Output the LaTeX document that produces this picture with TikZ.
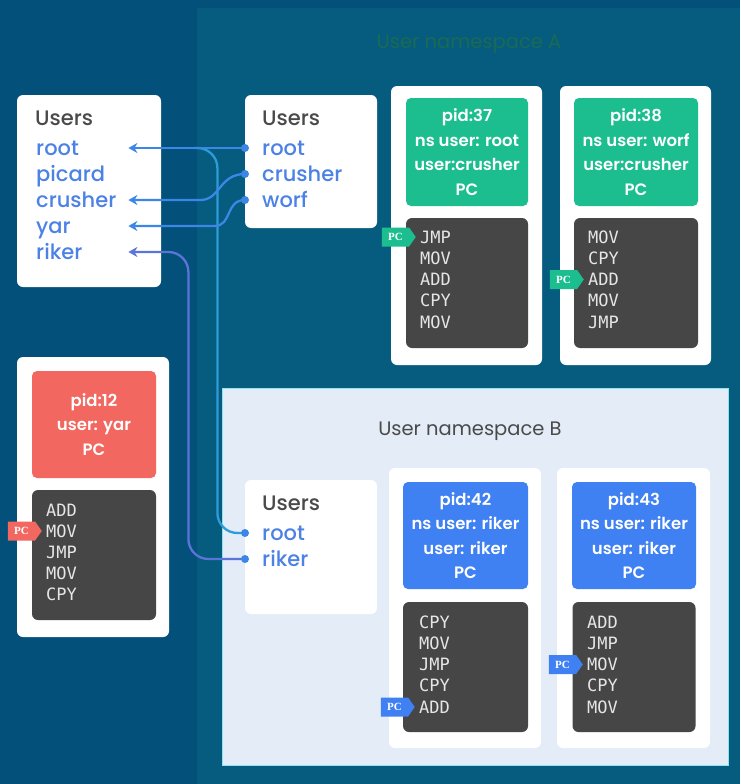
\documentclass[tikz,border=0pt]{standalone}
\usepackage{fontspec}
\setmainfont{Poppins}
\IfFontExistsTF{Poppins Medium}
  {\newfontfamily\medfont{Poppins Medium}}
  {\newfontfamily\medfont{Poppins}}
\IfFontExistsTF{Poppins SemiBold}
  {\newfontfamily\semifont{Poppins SemiBold}}
  {\newfontfamily\semifont{Poppins}[FakeBold=1.5]}
\newfontfamily\codefont{DejaVu Sans Mono}
\newfontfamily\tagfont{Liberation Serif}
\usetikzlibrary{shapes.symbols,arrows.meta,calc}

\definecolor{outerbg}{HTML}{03507A}
\definecolor{nsA}{HTML}{055C7E}
\definecolor{nsAtitle}{HTML}{1B6A55}
\definecolor{nsB}{HTML}{E3ECF7}
\definecolor{nsBedge}{HTML}{8EE3F0}
\definecolor{usergray}{HTML}{4A4A4A}
\definecolor{userblue}{HTML}{4C82E6}
\definecolor{codebg}{HTML}{464646}
\definecolor{codetext}{HTML}{E6E6E6}
\definecolor{procgreen}{HTML}{1CBE8F}
\definecolor{procred}{HTML}{F2675F}
\definecolor{procblue}{HTML}{3F80F2}
\definecolor{linkblue}{HTML}{3C86E6}
\definecolor{linkcyan}{HTML}{2E9CD8}
\definecolor{linkviolet}{HTML}{5B74D8}

\tikzset{
  card/.style={fill=white, rounded corners=6pt, inner sep=0pt},
  hdr/.style={rounded corners=5pt, inner sep=0pt, text=white, align=center,
    font=\semifont\fontsize{16.5}{24.5}\selectfont},
  codebox/.style={fill=codebg, rounded corners=6pt, inner sep=0pt},
  codeline/.style={anchor=west, inner xsep=4pt, inner ysep=0pt, text=codetext,
    font=\codefont\fontsize{17}{18}\selectfont},
  pctag/.style={signal, signal to=east, signal pointer angle=110, text=white,
    inner xsep=3pt, inner ysep=3.5pt, minimum height=19pt, minimum width=34pt,
    anchor=east, font=\tagfont\bfseries\fontsize{11}{12}\selectfont},
  usershead/.style={anchor=base west, inner sep=0pt, text=usergray,
    font=\medfont\fontsize{21}{22}\selectfont},
  lentry/.style={anchor=base west, inner xsep=2pt, inner ysep=0pt, text width=90pt,
    align=left, text=userblue, font=\medfont\fontsize{21}{22}\selectfont},
  rentry/.style={anchor=base west, inner xsep=17pt, inner ysep=0pt, text=userblue,
    font=\medfont\fontsize{21}{22}\selectfont},
  link/.style={line width=2.3pt, line cap=round},
  dotend/.style={circle, fill=linkblue, inner sep=0pt, minimum size=8pt},
  nstitle/.style={inner sep=0pt, font=\fontsize{19.5}{22}\selectfont},
}

\begin{document}
\begin{tikzpicture}[x=1pt, y=-1pt]
  % canvas and namespace regions
  \fill[outerbg] (0,0) rectangle (740,784);
  \useasboundingbox (0,0) rectangle (740,784);
  \fill[nsA] (197,8) rectangle (740,784);
  \node[nstitle, text=nsAtitle] (titleA) at (469,44) {User namespace A};
  \filldraw[fill=nsB, draw=nsBedge, line width=1pt] (222,388) rectangle (728,765);
  \node[nstitle, text=usergray] (titleB) at (470,431) {User namespace B};

  % host user table (baselines; the entry rows sit about 7pt above)
  \node[card, minimum width=144pt, minimum height=192pt] (hostusers) at (89,191) {};
  \node[usershead] (hostlbl) at (35,125) {Users};
  \node[lentry] (Lroot)    at (34,155) {root};
  \node[lentry] (Lpicard)  at (34,181) {picard};
  \node[lentry] (Lcrusher) at (34,207) {crusher};
  \node[lentry] (Lyar)     at (34,233) {yar};
  \node[lentry] (Lriker)   at (34,259) {riker};

  % namespace A user table
  \node[card, minimum width=132pt, minimum height=133pt] (Ausers) at (311,161.5) {};
  \node[usershead] (Albl) at (262,125) {Users};
  \node[rentry] (Aroot)    at (245,155) {root};
  \node[rentry] (Acrusher) at (245,181) {crusher};
  \node[rentry] (Aworf)    at (245,207) {worf};

  % namespace B user table
  \node[card, minimum width=132pt, minimum height=134pt] (Busers) at (311,547) {};
  \node[usershead] (Blbl) at (262,510) {Users};
  \node[rentry] (Broot)  at (245,540) {root};
  \node[rentry] (Briker) at (245,566) {riker};

  % anchor points for the mapping lines, on each entry's mid-height
  \coordinate (Lroot-e)    at ($(Lroot.base east)+(0,-7)$);
  \coordinate (Lcrusher-e) at ($(Lcrusher.base east)+(0,-7)$);
  \coordinate (Lyar-e)     at ($(Lyar.base east)+(0,-7)$);
  \coordinate (Lriker-e)   at ($(Lriker.base east)+(0,-7)$);
  \coordinate (Aroot-w)    at ($(Aroot.base west)+(0,-7)$);
  \coordinate (Acrusher-w) at ($(Acrusher.base west)+(0,-7)$);
  \coordinate (Aworf-w)    at ($(Aworf.base west)+(0,-7)$);
  \coordinate (Broot-w)    at ($(Broot.base west)+(0,-7)$);
  \coordinate (Briker-w)   at ($(Briker.base west)+(0,-7)$);

  % process pid 37
  \node[card, minimum width=151pt, minimum height=279pt] (card37) at (466.5,225.5) {};
  \node[hdr, fill=procgreen, minimum width=122pt, minimum height=108pt] (hdr37) at (467,152)
    {pid:37\\ns user: root\\user:crusher\\PC};
  \node[codebox, minimum width=122pt, minimum height=130pt] (code37) at (467,283) {};
  \foreach \op [count=\i] in {JMP,MOV,ADD,CPY,MOV}
    \node[codeline] (c37-\i) at (416,{237+21.25*(\i-1)}) {\op};
  \node[pctag, fill=procgreen] (pc37) at (c37-1.west) {PC};

  % process pid 38
  \node[card, minimum width=151pt, minimum height=279pt] (card38) at (635.5,225.5) {};
  \node[hdr, fill=procgreen, minimum width=124pt, minimum height=108pt] (hdr38) at (636,152)
    {pid:38\\ns user: worf\\user:crusher\\PC};
  \node[codebox, minimum width=124pt, minimum height=130pt] (code38) at (636,283) {};
  \foreach \op [count=\i] in {MOV,CPY,ADD,MOV,JMP}
    \node[codeline] (c38-\i) at (584,{237+21.25*(\i-1)}) {\op};
  \node[pctag, fill=procgreen] (pc38) at (c38-3.west) {PC};

  % process pid 12 (host)
  \node[card, minimum width=152pt, minimum height=280pt] (card12) at (93,497) {};
  \node[hdr, fill=procred, minimum width=124pt, minimum height=107pt] (hdr12) at (94,424.5)
    {pid:12\\user: yar\\PC};
  \node[codebox, minimum width=124pt, minimum height=130pt] (code12) at (94,555) {};
  \foreach \op [count=\i] in {ADD,MOV,JMP,MOV,CPY}
    \node[codeline] (c12-\i) at (42,{510+21*(\i-1)}) {\op};
  \node[pctag, fill=procred] (pc12) at (c12-2.west) {PC};

  % process pid 42
  \node[card, minimum width=152pt, minimum height=280pt] (card42) at (465,608) {};
  \node[hdr, fill=procblue, minimum width=125pt, minimum height=107pt] (hdr42) at (465.5,535.5)
    {pid:42\\ns user: riker\\user: riker\\PC};
  \node[codebox, minimum width=125pt, minimum height=130pt] (code42) at (465.5,667) {};
  \foreach \op [count=\i] in {CPY,MOV,JMP,CPY,ADD}
    \node[codeline] (c42-\i) at (415,{622+21.25*(\i-1)}) {\op};
  \node[pctag, fill=procblue] (pc42) at (c42-5.west) {PC};

  % process pid 43
  \node[card, minimum width=153pt, minimum height=280pt] (card43) at (633.5,608) {};
  \node[hdr, fill=procblue, minimum width=124pt, minimum height=107pt] (hdr43) at (634,535.5)
    {pid:43\\ns user: riker\\user: riker\\PC};
  \node[codebox, minimum width=123pt, minimum height=130pt] (code43) at (634,667) {};
  \foreach \op [count=\i] in {ADD,JMP,MOV,CPY,MOV}
    \node[codeline] (c43-\i) at (583,{622+21.25*(\i-1)}) {\op};
  \node[pctag, fill=procblue] (pc43) at (c43-3.west) {PC};

  % user id mappings
  \coordinate (rootjoin) at ($(Lroot-e)+(66,0)$);
  \draw[link, draw=linkcyan, rounded corners=20pt]
    (Broot-w) -| ($(Lroot-e)+(89,0)$) -- (rootjoin);
  \draw[link, draw=linkviolet, rounded corners=20pt, -{Stealth[length=9pt,width=10pt]}]
    (Briker-w) -| ($(Lriker-e)+(60,0)$) -- (Lriker-e);
  \draw[link, draw=linkblue, -{Stealth[length=9pt,width=10pt]}]
    (Aroot-w) -- (Lroot-e);
  \draw[link, draw=linkblue, -{Stealth[length=9pt,width=10pt]}]
    (Acrusher-w) .. controls +(-26,0) and +(20,0) .. ($(Lcrusher-e)+(72,0)$)
    -- (Lcrusher-e);
  \draw[link, draw=linkblue, -{Stealth[length=9pt,width=10pt]}]
    (Aworf-w) .. controls +(-20,0) and +(18,0) .. ($(Lyar-e)+(86,0)$)
    -- (Lyar-e);
  \node[dotend] (dAroot) at (Aroot-w) {};
  \node[dotend] (dAcrusher) at (Acrusher-w) {};
  \node[dotend] (dAworf) at (Aworf-w) {};
  \node[dotend] (dBroot) at (Broot-w) {};
  \node[dotend] (dBriker) at (Briker-w) {};
\end{tikzpicture}
\end{document}
